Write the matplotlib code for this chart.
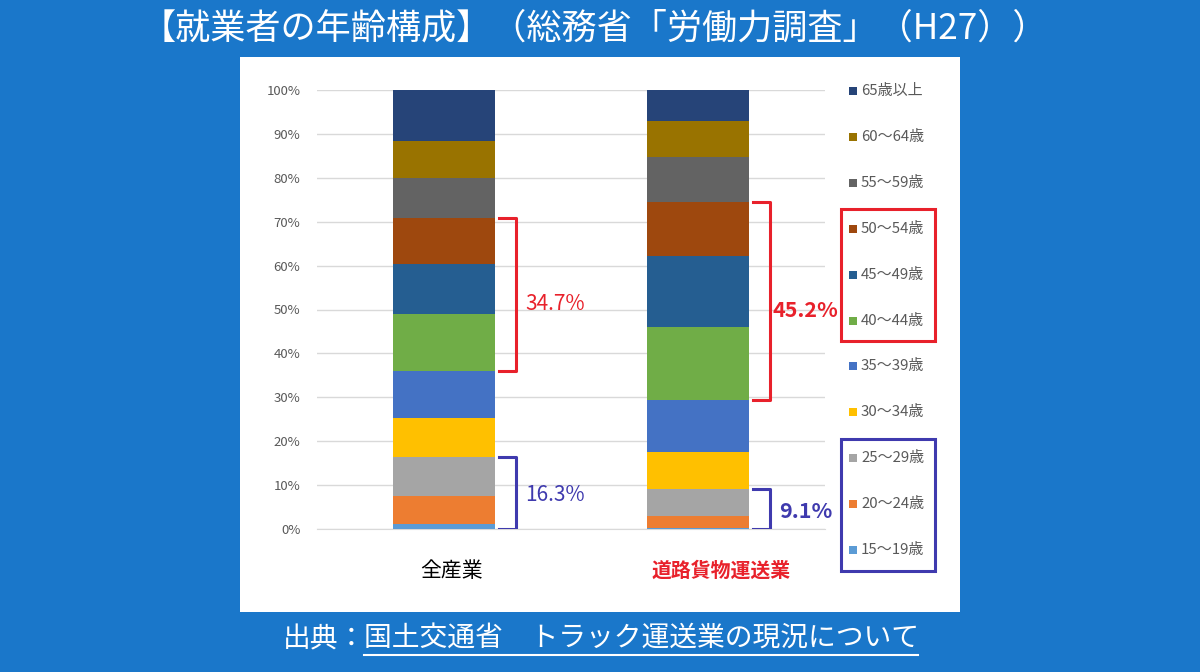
import matplotlib.pyplot as plt
from matplotlib.patches import Rectangle
import numpy as np

plt.rcParams['font.family'] = ['Noto Sans CJK JP', 'DejaVu Sans']

# Age groups, bottom to top
age_groups = ['15〜19歳', '20〜24歳', '25〜29歳', '30〜34歳', '35〜39歳',
              '40〜44歳', '45〜49歳', '50〜54歳', '55〜59歳', '60〜64歳', '65歳以上']
colors = ['#5B9BD5', '#ED7D31', '#A5A5A5', '#FFC000', '#4472C4',
          '#70AD47', '#255E91', '#9E480E', '#636363', '#997300', '#264478']

categories = ['全産業', '道路貨物運送業']
all_industry = [1.2, 6.4, 8.7, 9.0, 10.8, 12.8, 11.4, 10.5, 9.2, 8.4, 11.6]
road_freight = [0.3, 2.7, 6.1, 8.4, 11.9, 16.7, 16.1, 12.4, 10.1, 8.3, 7.0]

# bracket annotations: (bar index, first group, last group, label, colour, bold)
red = '#E8212B'
blue = '#3F3AAE'
brackets = [
    (0, 5, 7, '34.7%', red, False),
    (0, 0, 2, '16.3%', blue, False),
    (1, 5, 7, '45.2%', red, True),
    (1, 0, 2, '9.1%', blue, True),
]

fig = plt.figure(figsize=(12, 6.72), dpi=100)
fig.patch.set_facecolor('#1A77CA')

# white panel behind chart
fig.add_artist(Rectangle((240 / 1200, 1 - 612 / 672), 720 / 1200, 555 / 672,
                         transform=fig.transFigure, facecolor='white',
                         edgecolor='none', zorder=0))

ax = fig.add_axes([317 / 1200, 1 - 529 / 672, 508 / 1200, 439 / 672])
ax.set_facecolor('none')

data = np.array([all_industry, road_freight])
x = np.arange(len(categories))
bottoms = np.zeros(len(categories))
for i, grp in enumerate(age_groups):
    ax.bar(x, data[:, i], bottom=bottoms, width=0.4, color=colors[i], zorder=3)
    bottoms += data[:, i]

ax.set_xlim(-0.5, 1.5)
ax.set_ylim(0, 100)
ax.set_yticks(np.arange(0, 101, 10))
ax.set_yticklabels([f'{v}%' for v in range(0, 101, 10)])
ax.tick_params(axis='y', length=0, pad=12, labelsize=9.5, labelcolor='#595959')
ax.set_xticks([])
ax.grid(axis='y', color='#D9D9D9', linewidth=1, zorder=0)
for s in ax.spines.values():
    s.set_visible(False)
ax.spines['bottom'].set_visible(True)
ax.spines['bottom'].set_color('#D9D9D9')

# category labels
ax.text(x[0] + 0.03, -9.5, categories[0], ha='center', va='center',
        fontsize=15, color='black')
ax.text(x[1] + 0.09, -9.5, categories[1], ha='center', va='center',
        fontsize=14.3, color=red, fontweight='bold')

# brackets
for bi, g0, g1, label, col, bold in brackets:
    cum = np.cumsum(data[bi])
    lo = cum[g0 - 1] if g0 > 0 else 0
    hi = cum[g1]
    x0 = x[bi] + 0.215
    x1 = x[bi] + 0.285
    ymid = (lo + hi) / 2 - (2.3 if col == red else 0.5)
    gap = 0.01 if (bold and col == red) else 0.035
    ax.plot([x0, x1, x1, x0], [hi, hi, lo, lo], color=col, lw=2.2,
            solid_joinstyle='round', zorder=4)
    ax.text(x1 + gap, ymid, label, ha='left', va='center',
            fontsize=15.5 if bold else 15, color=col,
            fontweight='bold' if bold else 'normal')

# legend, top to bottom
leg_top = 91
leg_step = 45.9
for k, i in enumerate(range(len(age_groups) - 1, -1, -1)):
    yy = leg_top + k * leg_step
    fig.add_artist(Rectangle((849 / 1200, 1 - (yy + 4) / 672), 8 / 1200, 8 / 672,
                             transform=fig.transFigure, facecolor=colors[i],
                             edgecolor='none'))
    fig.text(861 / 1200, 1 - yy / 672, age_groups[i], ha='left', va='center',
             fontsize=10.8, color='#595959')

# highlight boxes around legend groups
fig.add_artist(Rectangle((841 / 1200, 1 - 341 / 672), 94 / 1200, 132 / 672,
                         transform=fig.transFigure, facecolor='none',
                         edgecolor=red, lw=2.2))
fig.add_artist(Rectangle((841 / 1200, 1 - 571 / 672), 94 / 1200, 132 / 672,
                         transform=fig.transFigure, facecolor='none',
                         edgecolor=blue, lw=2.2))

fig.text(594 / 1200, 1 - 28 / 672, '【就業者の年齢構成】（総務省「労働力調査」（H27））',
         ha='center', va='center', fontsize=25.3, color='white')

fig.text(283 / 1200, 1 - 639 / 672, '出典：', ha='left', va='center',
         fontsize=20, color='white')
fig.text(364 / 1200, 1 - 639 / 672, '国土交通省　トラック運送業の現況について',
         ha='left', va='center', fontsize=20, color='white')
fig.add_artist(plt.Line2D([364 / 1200, 918 / 1200], [1 - 655 / 672, 1 - 655 / 672],
                          transform=fig.transFigure, color='white', lw=1.5))

fig.savefig('out.png', dpi=100, facecolor=fig.get_facecolor())
